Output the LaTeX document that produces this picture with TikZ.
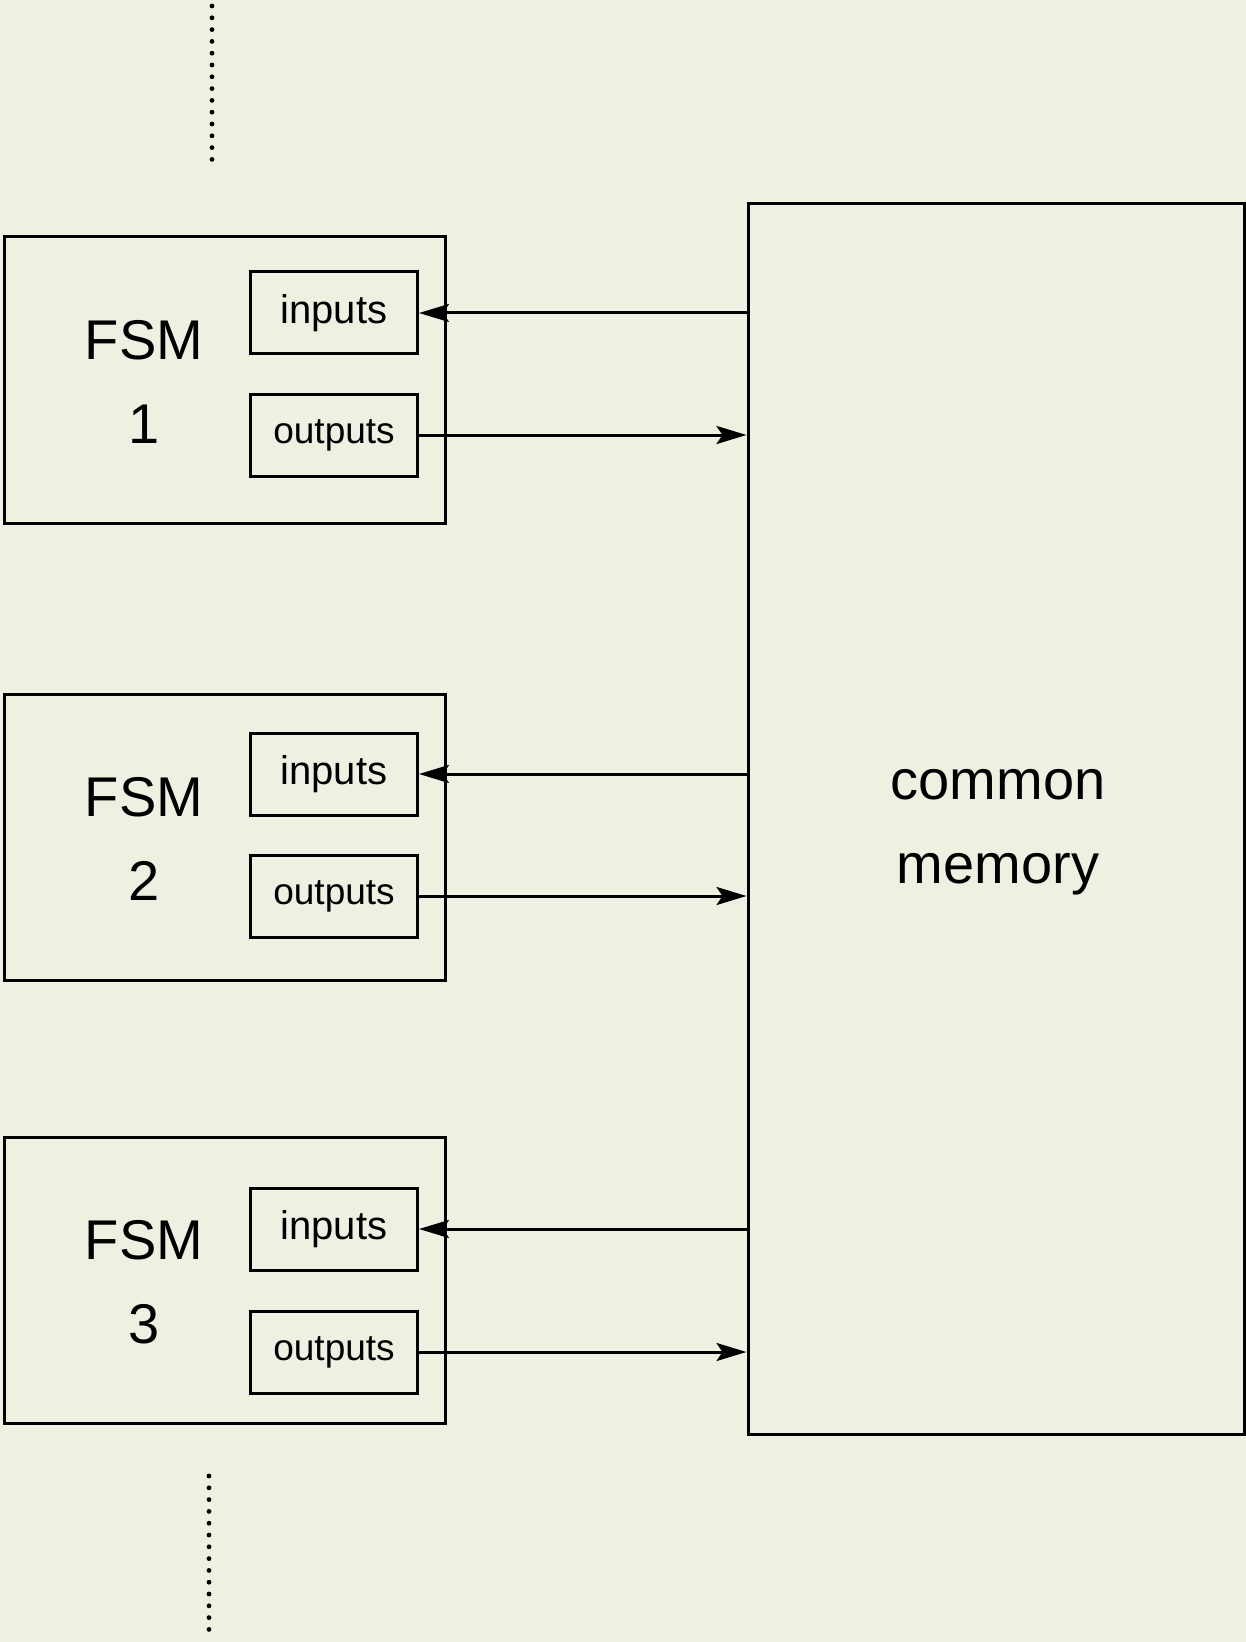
\documentclass[tikz,border=0pt]{standalone}
\usepackage{fontspec}
\setmainfont{Liberation Sans}
\usetikzlibrary{arrows.meta}
\definecolor{paper}{RGB}{240,240,226}

\begin{document}
\begin{tikzpicture}[x=0.5pt, y=-0.5pt, line width=1.5pt,
  fsmbox/.style={draw, minimum width=220.5pt, minimum height=143pt, inner sep=0pt},
  portbox/.style={draw, minimum width=83.5pt, minimum height=41pt, inner sep=0pt},
  membox/.style={draw, minimum width=248pt, minimum height=615pt, inner sep=0pt},
  memlabel/.style={align=center, font=\fontsize{28}{42}\selectfont},
  fsmlabel/.style={align=center, font=\fontsize{28}{42}\selectfont},
  sig/.style={-{Stealth[length=15pt, width=9pt, inset=3pt]}},
  dotline/.style={line width=2.4pt, line cap=round, dash pattern=on 0pt off 5.9pt}]
\useasboundingbox (0,0) rectangle (1246,1642);
\fill[paper] (0,0) rectangle (1246,1642);

% dotted continuation marks
\coordinate (top a) at (212,6);
\coordinate (top b) at (212,166);
\coordinate (bot a) at (209,1476);
\coordinate (bot b) at (209,1636);
\draw[dotline] (top a) -- (top b);
\draw[dotline] (bot a) -- (bot b);

\node[membox] (mem) at (996,819) {};
\node[memlabel] (memtext) at (998,832) {common\\memory};

\foreach \n/\yb/\yi/\yo in {1/380/313/435, 2/837/774/896, 3/1280/1229/1352}{
  \node[fsmbox] (fsm\n) at (225,\yb) {};
  \node[fsmlabel] (lab\n) at (144,\yb+2) {FSM\\\n};
  \node[portbox, font=\fontsize{20}{24}\selectfont] (in\n) at (334,\yi) {inputs};
  \node[portbox, font=\fontsize{18.5}{22}\selectfont] (out\n) at (334,\yo) {outputs};
  \draw[sig] (mem.west |- in\n) -- (in\n.east);
  \draw[sig] (out\n.east) -- (out\n -| mem.west);
}
\end{tikzpicture}
\end{document}
